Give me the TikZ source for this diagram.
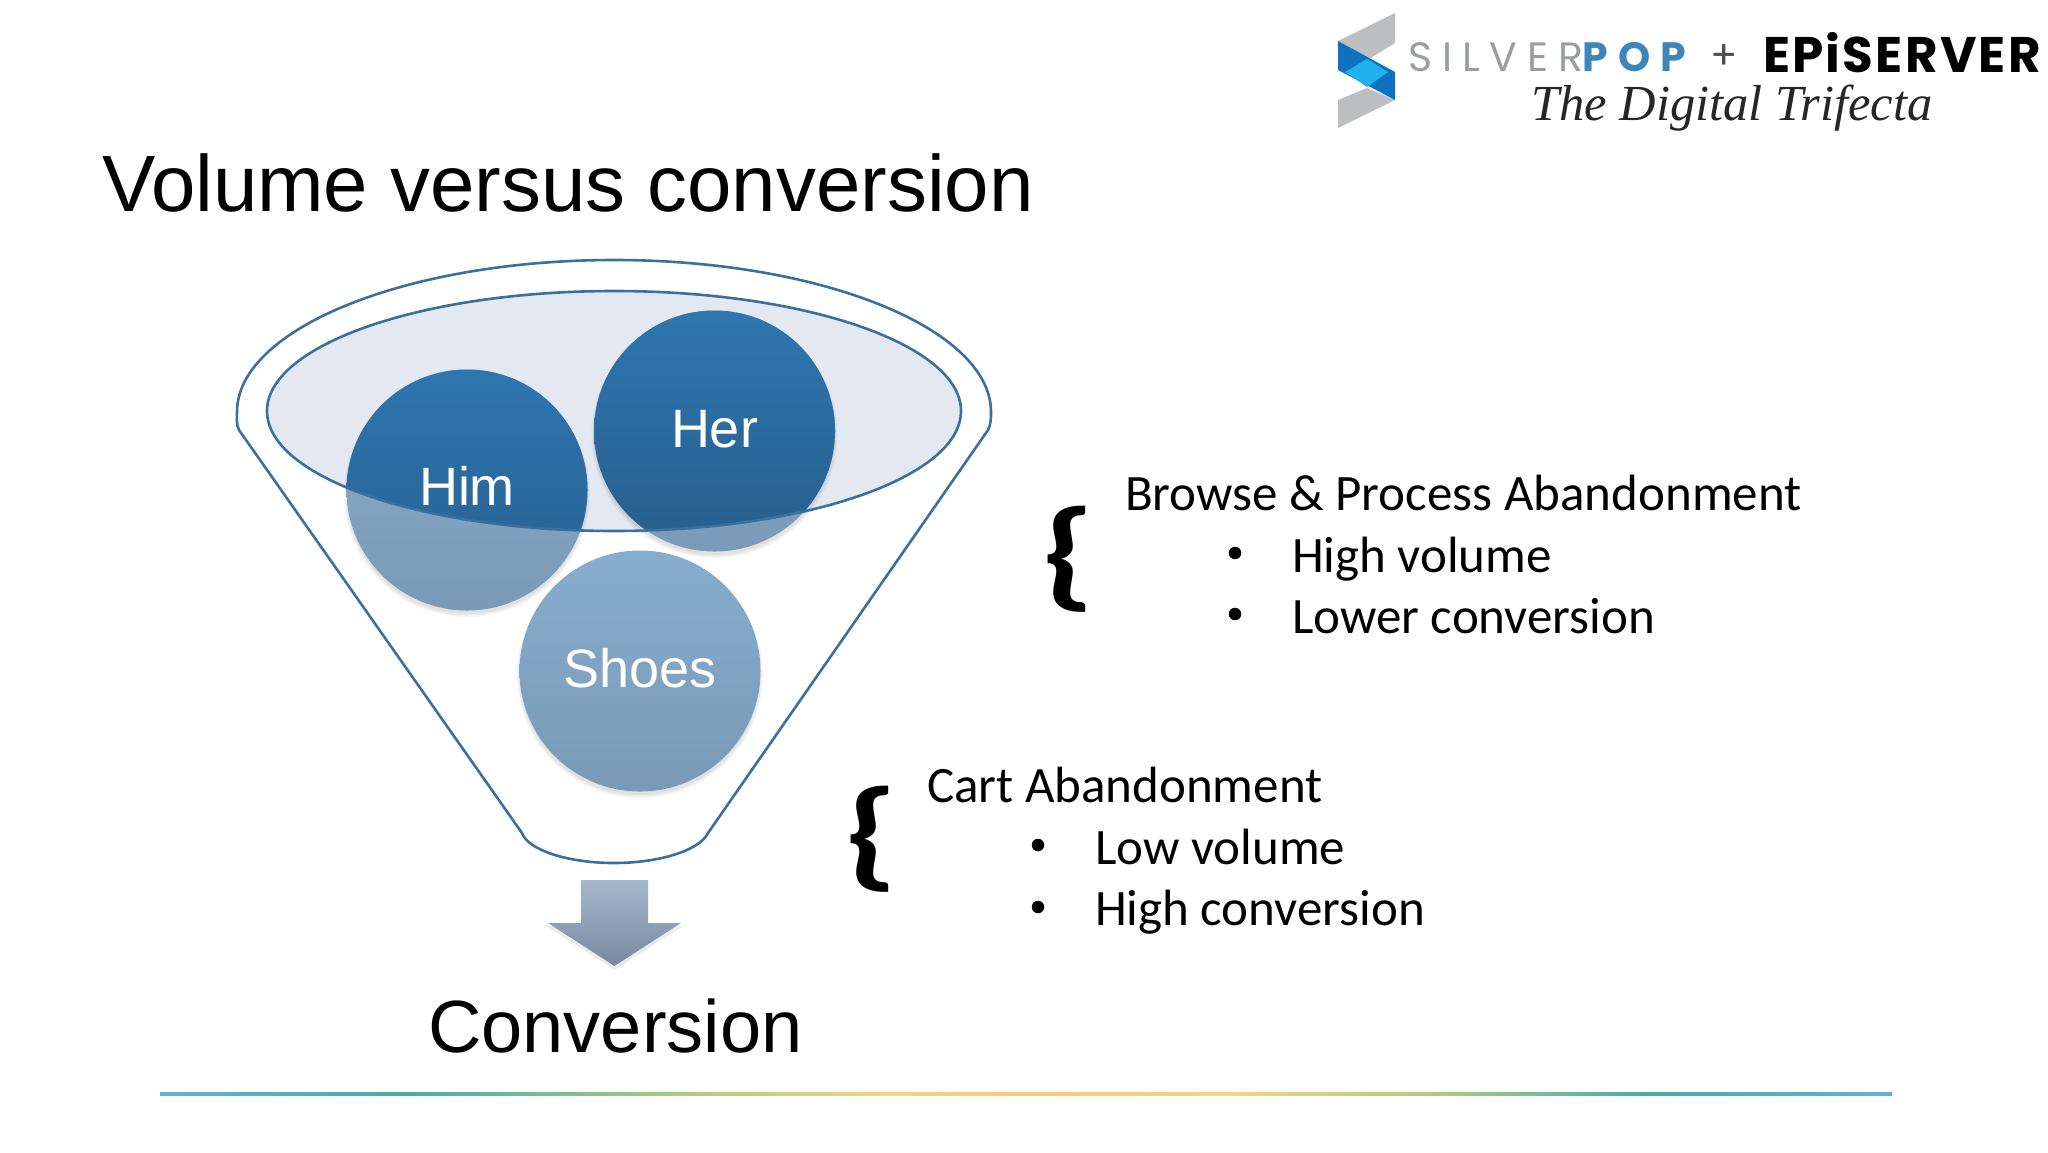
\documentclass[tikz,border=0pt]{standalone}
\usepackage{fontspec}
\setmainfont{Liberation Sans}
\newfontfamily\calib{Carlito}
\newfontfamily\logofont[LetterSpace=24]{Poppins}
\newfontfamily\logoblack[LetterSpace=4.5]{Poppins}
\newfontfamily\scriptf{Liberation Serif}
\definecolor{ruleA}{HTML}{62B2DE}
\definecolor{ruleB}{HTML}{43AFA8}
\definecolor{ruleC}{HTML}{A8CC80}
\definecolor{ruleD}{HTML}{F5D67C}
\definecolor{ruleE}{HTML}{F9C878}
\pgfdeclarehorizontalshading{rulegrad}{100bp}{
 color(0bp)=(ruleA); color(25bp)=(ruleA); color(32bp)=(ruleB); color(40bp)=(ruleC);
 color(46bp)=(ruleD); color(50bp)=(ruleE); color(56bp)=(ruleD); color(62bp)=(ruleC);
 color(68bp)=(ruleB); color(75bp)=(ruleA); color(100bp)=(ruleA)}
\definecolor{funnelline}{HTML}{3C709C}
\definecolor{funnelfill}{HTML}{E3E8F1}
\definecolor{lightTop}{HTML}{86ADCF}
\definecolor{lightBot}{HTML}{7A9AB6}
\definecolor{darkTop}{HTML}{2F76B0}
\definecolor{darkBot}{HTML}{265E8C}
\definecolor{arrowTop}{HTML}{A6B8CF}
\definecolor{arrowBot}{HTML}{78889F}
\definecolor{logogray}{HTML}{BDBEC0}
\definecolor{logotext}{HTML}{9B9EA1}
\definecolor{logoblue}{HTML}{3F86B8}
\definecolor{logodeep}{HTML}{0F72BE}
\definecolor{logosky}{HTML}{1FB2EE}
\newcommand{\fs}[1]{\fontsize{#1}{#1}\selectfont}
\tikzset{
 x=1pt,y=-1pt,
 funnelstroke/.style={draw=funnelline,line width=2.6pt},
 ball/.style={circle,minimum size=241pt,inner sep=0pt,outer sep=0pt,top color=lightTop,bottom color=lightBot},
 ballshadow/.style={fill=black,opacity=0.04},
 balltext/.style={text=white,font=\fs{54},anchor=base},
 bodytext/.style={font=\calib\fs{51},anchor=base west,inner sep=0pt,outer sep=0pt},
 bracetext/.style={font=\calib\bfseries\fs{121},anchor=base west,inner sep=0pt,outer sep=0pt},
 bullettext/.style={circle,fill=black,minimum size=12.5pt,inner sep=0pt},
}
\begin{document}
\begin{tikzpicture}
\useasboundingbox (0,0) rectangle (2048,1152);
\fill[white] (0,0) rectangle (2048,1152);

% logo
\fill[logogray] (1395,13)--(1338,41)--(1369,59)--(1395,43)--cycle;
\fill[logogray] (1338,128)--(1395,100)--(1367,88)--(1338,100)--cycle;
\fill[logodeep] (1338,41)--(1395,72)--(1395,100)--(1338,70)--cycle;
\fill[logosky] (1345,72)--(1367,59)--(1388,72)--(1367,87)--cycle;
\node[inner sep=0pt,anchor=base west,font=\logofont\fs{41}] (lsilver) at (1408,71) {\textcolor{logotext}{SILVER}\textcolor{logoblue}{\bfseries POP}};
\node[inner sep=0pt,anchor=base,font=\logoblack\fs{40},text=black!70] (lplus) at (1724,69) {+};
\node[inner sep=0pt,anchor=base west,font=\logoblack\bfseries\fs{50}] (lepi) at (1763,72) {EPiSERVER};
\node[inner sep=0pt,anchor=base west,font=\scriptf\itshape\fs{50.5},text=black!85] (ltri) at (1531,120) {The Digital Trifecta};

% title
\node[inner sep=0pt,anchor=base west,font=\fs{79.8}] (title) at (102,211) {Volume versus conversion};

% funnel
\path[funnelstroke,fill=white]
 (239,430) .. controls (236,424) and (237,418) .. (237,412)
 .. controls (237,329) and (406,260) .. (614,260)
 .. controls (822,260) and (991,329) .. (991,412)
 .. controls (991,418) and (991,424) .. (988,430)
 -- (708,833) .. controls (700,850) and (660,863) .. (614,863)
 .. controls (568,863) and (528,850) .. (522,833) -- cycle;
\coordinate (ec) at (614,411);
\fill[funnelfill] (ec) ellipse [x radius=347,y radius=120];

% soft shadows
\foreach \cx/\cy in {467/490,714.5/431,640/671}{
 \foreach \rr in {120,121.5,123}{
  \fill[ballshadow] (\cx,\cy+4) circle (\rr);
 }
}
% balls
\node[ball] (himball) at (467,490) {};
\node[ball] (herball) at (714.5,431) {};
\node[ball] (shoesball) at (640,671) {};
\begin{scope}
 \clip (ec) ellipse [x radius=347,y radius=120];
 \node[ball,top color=darkTop,bottom color=darkBot] (himdark) at (467,490) {};
 \node[ball,top color=darkTop,bottom color=darkBot] (herdark) at (714.5,431) {};
\end{scope}
\draw[funnelstroke] (ec) ellipse [x radius=347,y radius=120];
\node[balltext] (him) at (467,505) {Him};
\node[balltext] (her) at (714.5,447) {Her};
\node[balltext] (shoes) at (640,687) {Shoes};

% arrow
\fill[black,opacity=0.08] (581,883)--(648,883)--(648,926)--(683,926)--(614.5,970)--(546,926)--(581,926)--cycle;
\path[top color=arrowTop,bottom color=arrowBot] (581,880)--(648,880)--(648,923)--(681,923)--(614.5,966)--(548,923)--(581,923)--cycle;

\node[inner sep=0pt,anchor=base west,font=\fs{74}] (conv) at (428,1052) {Conversion};

% right text
\node[bracetext] (brA) at (1041,594) {\scalebox{1.3}[1]{\{}};
\node[bodytext] (b1) at (1125,510) {Browse \& Process Abandonment};
\node[bullettext] (b2d) at (1235,553) {};
\node[bodytext] (b2) at (1292,572) {High volume};
\node[bullettext] (b3d) at (1235,614) {};
\node[bodytext] (b3) at (1292,633) {Lower conversion};

\node[bracetext] (brB) at (844,874) {\scalebox{1.3}[1]{\{}};
\node[bodytext] (c1) at (927,802) {Cart Abandonment};
\node[bullettext] (c2d) at (1038,845) {};
\node[bodytext] (c2) at (1095,864) {Low volume};
\node[bullettext] (c3d) at (1038,907) {};
\node[bodytext] (c3) at (1095,925) {High conversion};

% rule
\path[shading=rulegrad] (160,1092.5) rectangle (1892,1095.5);
\end{tikzpicture}
\end{document}
